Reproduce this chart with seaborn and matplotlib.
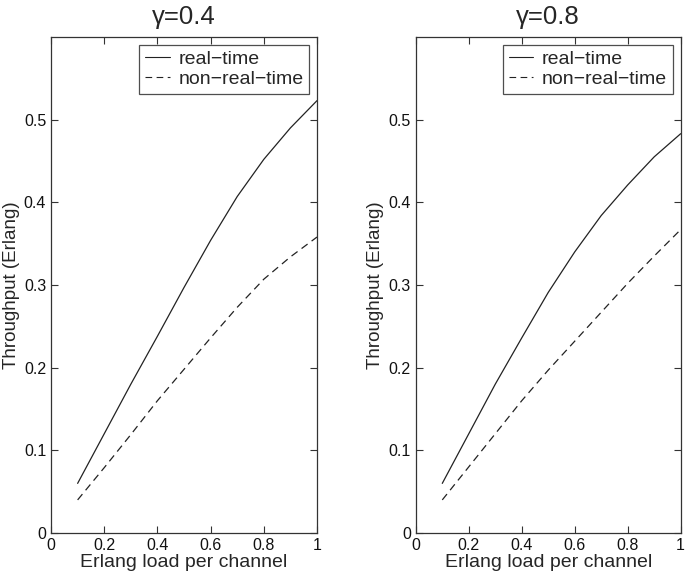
import numpy as np
import pandas as pd
import seaborn as sns
from matplotlib import pyplot as plt

load = [0.1, 0.2, 0.3, 0.4, 0.5, 0.6, 0.7, 0.8, 0.9, 1.0]

# gamma = 0.4
rt_04 = [0.060, 0.120, 0.180, 0.238, 0.297, 0.354, 0.407, 0.452, 0.490, 0.523]
nrt_04 = [0.040, 0.079, 0.119, 0.160, 0.198, 0.236, 0.273, 0.307, 0.334, 0.358]

# gamma = 0.8
rt_08 = [0.060, 0.120, 0.180, 0.236, 0.291, 0.340, 0.384, 0.421, 0.455, 0.483]
nrt_08 = [0.040, 0.080, 0.120, 0.160, 0.197, 0.232, 0.267, 0.302, 0.335, 0.367]

titles = ["\u03b3=0.4", "\u03b3=0.8"]
series_names = ["real\u2212time", "non\u2212real\u2212time"]


def make_frame(rt, nrt):
    return pd.DataFrame({
        "load": load * 2,
        "throughput": rt + nrt,
        "series": [series_names[0]] * len(load) + [series_names[1]] * len(load),
    })


sns.set_style("ticks")
plt.rcParams["font.family"] = ["Liberation Sans", "DejaVu Sans"]

fig = plt.figure(figsize=(6.85, 5.76), dpi=100)
ax1 = fig.add_axes([0.0745, 0.0747, 0.3883, 0.8611])
ax2 = fig.add_axes([0.607, 0.0747, 0.3867, 0.8611])

frames = [make_frame(rt_04, nrt_04), make_frame(rt_08, nrt_08)]

for ax, df, title in zip([ax1, ax2], frames, titles):
    sns.lineplot(data=df, x="load", y="throughput", style="series",
                 dashes={series_names[0]: "", series_names[1]: (6, 4)},
                 color="#222222", linewidth=0.9, ax=ax)
    ax.set_xlim(0, 1)
    ax.set_ylim(0, 0.6)
    ax.set_xticks([0, 0.2, 0.4, 0.6, 0.8, 1])
    ax.set_xticklabels(["0", "0.2", "0.4", "0.6", "0.8", "1"])
    ax.set_yticks([0, 0.1, 0.2, 0.3, 0.4, 0.5])
    ax.set_yticklabels(["0", "0.1", "0.2", "0.3", "0.4", "0.5"])
    ax.tick_params(direction="in", top=True, right=True, length=5,
                   width=0.8, labelsize=11.5, color="#333333",
                   labelcolor="#111111", pad=3.5)
    for sp in ax.spines.values():
        sp.set_visible(True)
        sp.set_linewidth(0.9)
        sp.set_color("#333333")
    ax.set_xlabel("Erlang load per channel", fontsize=14, labelpad=1)
    ax.set_ylabel("Throughput (Erlang)", fontsize=13.5, labelpad=3)
    ax.set_title(title, fontsize=18.5, pad=9)
    leg = ax.legend(loc="upper right", fontsize=14, frameon=True,
                    fancybox=False, handlelength=1.25, borderpad=0.3,
                    labelspacing=0.1, handletextpad=0.45, borderaxespad=0.4)
    leg.get_frame().set_edgecolor("#222222")
    leg.get_frame().set_linewidth(0.9)
    for line in leg.get_lines():
        line.set_linewidth(0.8)

fig.savefig("out.png", dpi=100)
